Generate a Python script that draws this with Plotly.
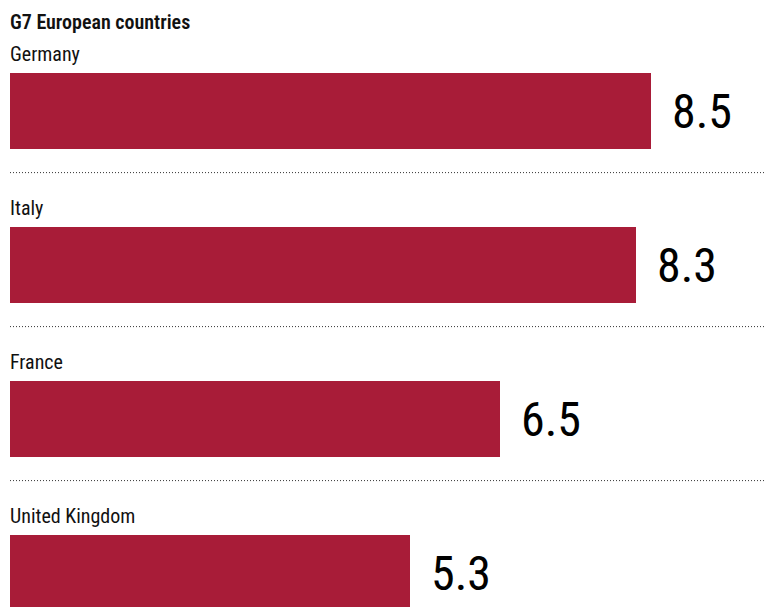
import plotly.graph_objects as go

# Data
title_text = "G7 European countries"
countries = ["Germany", "Italy", "France", "United Kingdom"]
values = [8.5, 8.3, 6.5, 5.3]

BAR_COLOR = "#A81C38"
FONT = "Roboto Condensed, Arial Narrow, Roboto, sans-serif"

W, H = 764, 607
ROW = 154.0          # pixel height of one country block
FIRST_CENTER = 111.0 # pixel y of the first bar centre

positions = list(range(len(countries)))

fig = go.Figure(
    go.Bar(
        x=values,
        y=positions,
        orientation="h",
        width=76 / ROW,
        marker=dict(color=BAR_COLOR, line=dict(width=0)),
        hoverinfo="skip",
    )
)

annotations = []
shapes = []

# chart heading
annotations.append(dict(
    text=title_text, x=0, xref="paper", xanchor="left", xshift=-2,
    y=(21.5 - FIRST_CENTER) / ROW, yref="y", yanchor="middle",
    showarrow=False, font=dict(family=FONT, size=20, color="#111111", weight=600),
))

for i, (name, val) in enumerate(zip(countries, values)):
    # country name above its bar
    annotations.append(dict(
        text=name, x=0, xref="x", xanchor="left", xshift=-2,
        y=i - 0.367, yref="y", yanchor="middle",
        showarrow=False, font=dict(family=FONT, size=20, color="#111111"),
    ))
    # value to the right of the bar
    annotations.append(dict(
        text=f"{val:.1f}", x=val, xref="x", xanchor="left", xshift=19,
        y=i, yref="y", yanchor="middle",
        showarrow=False, font=dict(family=FONT, size=48, color="#000000"),
    ))
    # dotted separator under each block
    shapes.append(dict(
        type="line", xref="paper", x0=0, x1=1, yref="y", y0=i + 0.4, y1=i + 0.4,
        line=dict(color="#333333", width=1, dash="1px,2px"),
    ))

y_top = -FIRST_CENTER / ROW
y_bot = (H - FIRST_CENTER) / ROW

fig.update_layout(
    width=W, height=H,
    margin=dict(l=10, r=0, t=0, b=0),
    paper_bgcolor="white", plot_bgcolor="white",
    showlegend=False,
    xaxis=dict(range=[0, 10], visible=False, fixedrange=True),
    yaxis=dict(range=[y_bot, y_top], visible=False, fixedrange=True),
    annotations=annotations,
    shapes=shapes,
    bargap=0,
)

fig.write_html("out.html", config={"displayModeBar": False})
